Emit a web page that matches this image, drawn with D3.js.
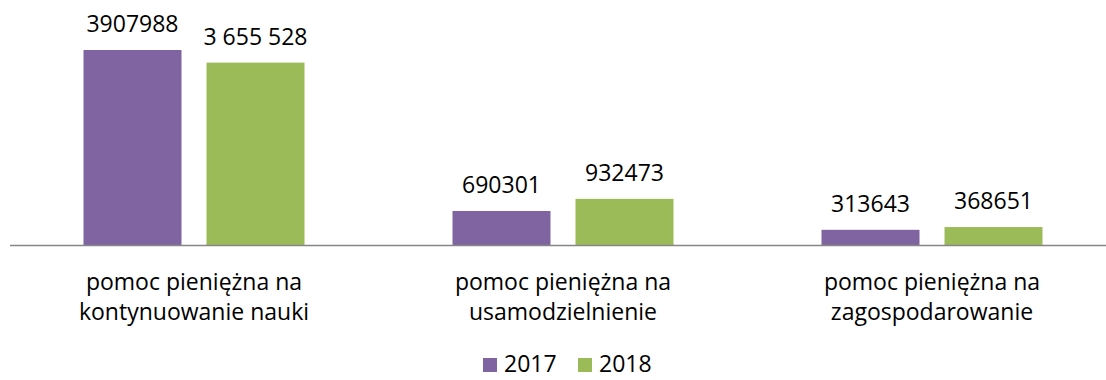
<!DOCTYPE html>
<html>
<head>
<meta charset="utf-8">
<script src="https://cdn.jsdelivr.net/npm/d3@7"></script>
<style>
  html, body { margin: 0; padding: 0; background: #fff; }
  svg { display: block; }
  text { font-family: "Open Sans", "Noto Sans", sans-serif; fill: #000; }
</style>
</head>
<body>
<svg id="chart" width="1106" height="380"></svg>
<script>
// Category labels (two lines each)
const categories = [
  ["pomoc pieniężna na", "kontynuowanie nauki"],
  ["pomoc pieniężna na", "usamodzielnienie"],
  ["pomoc pieniężna na", "zagospodarowanie"]
];
const seriesNames = ["2017", "2018"];
const values2017 = [3907988, 690301, 313643];
const values2018 = [3655528, 932473, 368651];
const labels2017 = ["3907988", "690301", "313643"];
const labels2018 = ["3 655 528", "932473", "368651"];
const colors = ["#8064A2", "#9BBB59"];

const svg = d3.select("#chart");
const baseY = 245.5;
const fontSize = 23;

const x0 = d3.scaleBand()
  .domain(d3.range(categories.length))
  .range([9.5, 1116.5])
  .paddingInner(0)
  .paddingOuter(0);

const bandW = x0.bandwidth();
const barW = 98;
const gap = 25;
const x1 = d3.scaleOrdinal()
  .domain(seriesNames)
  .range([bandW / 2 - gap / 2 - barW, bandW / 2 + gap / 2]);

const y = d3.scaleLinear()
  .domain([0, 3907988])
  .range([baseY, 50]);

const series = [
  { name: "2017", values: values2017, labels: labels2017 },
  { name: "2018", values: values2018, labels: labels2018 }
];

const groups = svg.selectAll("g.cat")
  .data(categories)
  .join("g")
  .attr("class", "cat")
  .attr("transform", (d, i) => `translate(${x0(i)},0)`);

series.forEach((s, si) => {
  groups.append("rect")
    .attr("x", x1(s.name))
    .attr("width", barW)
    .attr("y", (d, i) => y(s.values[i]))
    .attr("height", (d, i) => baseY - y(s.values[i]))
    .attr("fill", colors[si]);

  groups.append("text")
    .attr("x", x1(s.name) + barW / 2)
    .attr("y", (d, i) => y(s.values[i]) - 18)
    .attr("text-anchor", "middle")
    .attr("font-size", fontSize)
    .text((d, i) => s.labels[i]);
});

// Baseline axis
svg.append("line")
  .attr("x1", 10).attr("x2", 1106)
  .attr("y1", baseY).attr("y2", baseY)
  .attr("stroke", "#868686")
  .attr("stroke-width", 1.5);

// Category labels
groups.each(function(d) {
  const t = d3.select(this).append("text")
    .attr("text-anchor", "middle")
    .attr("font-size", fontSize);
  d.forEach((line, li) => {
    t.append("tspan")
      .attr("x", bandW / 2)
      .attr("y", 290 + li * 30)
      .text(line);
  });
});

// Legend
const legendX = [483, 578];
const legend = svg.selectAll("g.legend")
  .data(seriesNames)
  .join("g")
  .attr("class", "legend")
  .attr("transform", (d, i) => `translate(${legendX[i]},358)`);
legend.append("rect")
  .attr("width", 14).attr("height", 14)
  .attr("fill", (d, i) => colors[i]);
legend.append("text")
  .attr("x", 21).attr("y", 14)
  .attr("font-size", fontSize)
  .text(d => d);
</script>
</body>
</html>
